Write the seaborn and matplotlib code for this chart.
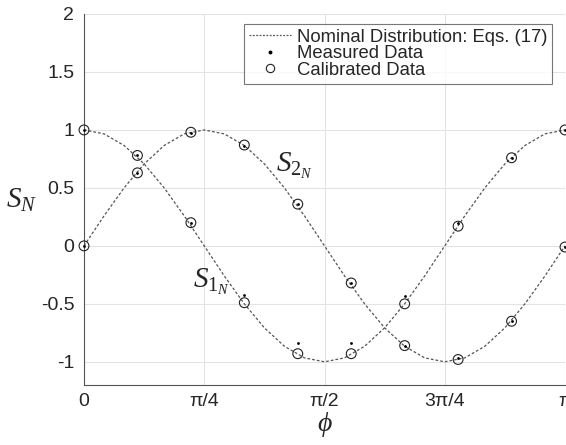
import numpy as np
import pandas as pd
import matplotlib
matplotlib.use("Agg")
import matplotlib.pyplot as plt
from matplotlib.lines import Line2D
import seaborn as sns

# ---------------- data ----------------
# nominal curves, sampled every 7.5 degrees of phi
phi_nom_deg = [0, 7.5, 15, 22.5, 30, 37.5, 45, 52.5, 60, 67.5, 75, 82.5, 90,
               97.5, 105, 112.5, 120, 127.5, 135, 142.5, 150, 157.5, 165, 172.5, 180]
s1_nom = [1, 0.966, 0.866, 0.707, 0.5, 0.259, 0, -0.259, -0.5, -0.707, -0.866, -0.966, -1,
          -0.966, -0.866, -0.707, -0.5, -0.259, 0, 0.259, 0.5, 0.707, 0.866, 0.966, 1]
s2_nom = [0, 0.259, 0.5, 0.707, 0.866, 0.966, 1, 0.966, 0.866, 0.707, 0.5, 0.259, 0,
          -0.259, -0.5, -0.707, -0.866, -0.966, -1, -0.966, -0.866, -0.707, -0.5, -0.259, 0]

# sample points (phi in degrees)
phi_pts_deg = [0, 20, 40, 60, 80, 100, 120, 140, 160, 180]
s1_meas = [1.0, 0.78, 0.20, -0.42, -0.84, -0.84, -0.43, 0.20, 0.76, 1.0]
s1_cal = [1.0, 0.78, 0.20, -0.49, -0.93, -0.93, -0.50, 0.17, 0.76, 1.0]
s2_meas = [0.0, 0.63, 0.97, 0.86, 0.36, -0.32, -0.86, -0.97, -0.65, -0.01]
s2_cal = [0.0, 0.63, 0.98, 0.87, 0.36, -0.32, -0.86, -0.98, -0.65, -0.01]

x_ticks = [0, np.pi / 4, np.pi / 2, 3 * np.pi / 4, np.pi]
x_ticklabels = ["0", "π/4", "π/2", "3π/4", "π"]
y_ticks = [-1, -0.5, 0, 0.5, 1, 1.5, 2]
y_ticklabels = ["-1", "-0.5", "0", "0.5", "1", "1.5", "2"]

# ---------------- frames ----------------
phi_nom = np.deg2rad(phi_nom_deg)
phi_pts = np.deg2rad(phi_pts_deg)
nom = pd.DataFrame({
    "phi": np.concatenate([phi_nom, phi_nom]),
    "S": s1_nom + s2_nom,
    "series": ["S1"] * len(phi_nom) + ["S2"] * len(phi_nom),
})
meas = pd.DataFrame({"phi": np.concatenate([phi_pts, phi_pts]), "S": s1_meas + s2_meas})
cal = pd.DataFrame({"phi": np.concatenate([phi_pts, phi_pts]), "S": s1_cal + s2_cal})

# ---------------- style ----------------
sns.set_style("white")
plt.rcParams["font.family"] = ["Liberation Sans", "DejaVu Sans"]
plt.rcParams["mathtext.fontset"] = "custom"
plt.rcParams["mathtext.it"] = "Liberation Serif:italic"
plt.rcParams["mathtext.rm"] = "Liberation Serif"

fig = plt.figure(figsize=(5.66, 4.45), dpi=100)
ax = fig.add_axes([84 / 566, 1 - 385 / 445, 481 / 566, 371 / 445])

dash_col = "#555555"
sns.lineplot(data=nom, x="phi", y="S", units="series", estimator=None, ax=ax,
             color=dash_col, linewidth=0.9, linestyle=(0, (2.2, 1.6)), legend=False, clip_on=False)
sns.scatterplot(data=cal, x="phi", y="S", ax=ax, marker="o", s=50,
                facecolor="none", edgecolor="#222222", linewidth=0.8, legend=False, clip_on=False, zorder=3)
sns.scatterplot(data=meas, x="phi", y="S", ax=ax, marker="o", s=4,
                color="black", edgecolor="black", linewidth=0, legend=False, clip_on=False, zorder=4)

ax.set_xlim(0, np.pi)
ax.set_ylim(-1.2, 2)
ax.set_xticks(x_ticks)
ax.set_xticklabels(x_ticklabels)
ax.set_yticks(y_ticks)
ax.set_yticklabels(y_ticklabels)
ax.tick_params(direction="in", length=4, width=0.8, colors="#262626", labelsize=14, pad=6)
ax.tick_params(axis="y", pad=7)
ax.grid(True, color="#e3e3e3", linewidth=0.8)
ax.set_axisbelow(True)
for side in ["top", "right"]:
    ax.spines[side].set_visible(False)
for side in ["left", "bottom"]:
    ax.spines[side].set_color("#555555")
    ax.spines[side].set_linewidth(0.8)

ax.set_xlabel(r"$\phi$", fontsize=20, labelpad=0)
ax.set_ylabel(r"$S_N$", fontsize=21, rotation=0, va="center", ha="center")
ax.yaxis.set_label_coords(-0.13, 0.5)

ax.text(1.378, 0.69, r"$S_{\mathrm{2}_N}$", fontsize=21, ha="center", va="center")
ax.text(0.836, -0.31, r"$S_{\mathrm{1}_N}$", fontsize=21, ha="center", va="center")

handles = [
    Line2D([], [], color=dash_col, linewidth=0.9, linestyle=(0, (1.5, 1.2))),
    Line2D([], [], color="black", marker="o", markersize=1.8, linestyle="none"),
    Line2D([], [], color="#222222", marker="o", markersize=6, markerfacecolor="none",
           markeredgewidth=0.8, linestyle="none"),
]
labels = ["Nominal Distribution: Eqs. (17)", "Measured Data", "Calibrated Data"]
leg = ax.legend(handles, labels, loc="upper right", bbox_to_anchor=(0.973, 0.973),
                fontsize=13.3, frameon=True, fancybox=False, edgecolor="#555555",
                handlelength=2.3, handletextpad=0.3, borderpad=0.25, labelspacing=-0.02,
                borderaxespad=0)
leg.get_frame().set_linewidth(0.8)

fig.savefig("out.png", dpi=100)
